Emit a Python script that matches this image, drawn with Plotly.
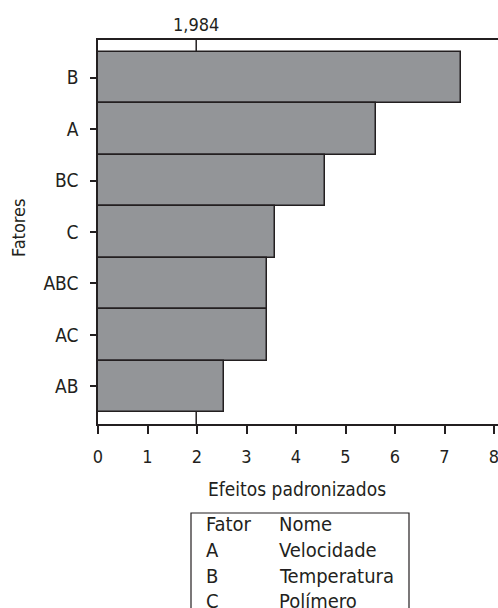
import plotly.graph_objects as go

# Data (top to bottom as shown)
factors = ["B", "A", "BC", "C", "ABC", "AC", "AB"]
effects = [7.33, 5.61, 4.59, 3.57, 3.41, 3.41, 2.55]
critical_value = 1.984
critical_label = "1,984"
x_ticks = [0, 1, 2, 3, 4, 5, 6, 7, 8]

table_header = ["Fator", "Nome"]
table_factors = ["A", "B", "C"]
table_names = ["Velocidade", "Temperatura", "Polímero"]

FONT = "DejaVu Sans Condensed, DejaVu Sans"
INK = "#231f20"
BAR = "#939598"

W, H = 498, 608
L, R, T, B = 98, 0, 40, 184
pw, ph = W - L - R, H - T - B

def px_x(x):
    return (x - L) / pw

def px_y(y):
    return (H - B - y) / ph

fig = go.Figure()
fig.add_trace(go.Bar(
    x=effects, y=factors, orientation="h",
    marker=dict(color=BAR, line=dict(color=INK, width=1.5)),
    width=1.0, showlegend=False, hoverinfo="skip",
))
# invisible trace to carry the top axis
fig.add_trace(go.Scatter(x=[critical_value], y=[factors[0]], xaxis="x2",
                         mode="markers", marker=dict(opacity=0),
                         showlegend=False, hoverinfo="skip"))

fig.add_shape(type="line", xref="x", yref="paper",
              x0=critical_value, x1=critical_value, y0=0, y1=1,
              line=dict(color=INK, width=1.5), layer="below")

# legend table box
fig.add_shape(type="rect", xref="paper", yref="paper",
              x0=px_x(191), x1=px_x(409), y0=px_y(513), y1=px_y(640),
              line=dict(color=INK, width=1.2), fillcolor="rgba(0,0,0,0)")

rows = [table_header] + [[f, n] for f, n in zip(table_factors, table_names)]
row_y = [524, 550, 575.5, 601]
for (c1, c2), yy in zip(rows, row_y):
    fig.add_annotation(text=c1, xref="paper", yref="paper", x=px_x(204), y=px_y(yy),
                       xanchor="left", yanchor="middle", showarrow=False,
                       font=dict(family=FONT, size=20, color=INK))
    fig.add_annotation(text=c2, xref="paper", yref="paper", x=px_x(277), y=px_y(yy),
                       xanchor="left", yanchor="middle", showarrow=False,
                       font=dict(family=FONT, size=20, color=INK))

# axis titles
fig.add_annotation(text="Efeitos padronizados", xref="paper", yref="paper",
                   x=px_x(297), y=px_y(489), xanchor="center", yanchor="middle",
                   showarrow=False, font=dict(family=FONT, size=19, color=INK))
fig.add_annotation(text="Fatores", xref="paper", yref="paper",
                   x=px_x(18), y=px_y(228), xanchor="center", yanchor="middle",
                   textangle=-90, showarrow=False,
                   font=dict(family=FONT, size=18, color=INK))

xr = [0, pw / 49.5]
fig.update_layout(
    width=W, height=H,
    margin=dict(l=L, r=R, t=T, b=B, autoexpand=False),
    paper_bgcolor="white", plot_bgcolor="white",
    bargap=0,
    font=dict(family=FONT, size=18, color=INK),
    xaxis=dict(range=xr, tickvals=x_ticks, ticks="outside", ticklen=8,
               tickwidth=1.5, tickcolor=INK, showline=True, linecolor=INK,
               linewidth=1.5, showgrid=False, zeroline=False,
               ticklabelstandoff=8, ticklabeloverflow="allow",
               tickfont=dict(family=FONT, size=18, color=INK)),
    xaxis2=dict(range=xr, overlaying="x", side="top", tickvals=[critical_value],
                ticktext=[critical_label], ticks="", showline=True, linecolor=INK,
                linewidth=1.5, showgrid=False, zeroline=False,
                ticklabelstandoff=0, tickfont=dict(family=FONT, size=18, color=INK)),
    yaxis=dict(type="category", categoryarray=factors,
               range=[6.733, -0.733], ticks="outside", ticklen=6, tickwidth=1.5,
               tickcolor=INK, showline=True, linecolor=INK, linewidth=1.5,
               showgrid=False, zeroline=False, ticklabelstandoff=8,
               tickfont=dict(family=FONT, size=19, color=INK)),
)

fig.write_html("out.html", config={"displayModeBar": False},
               post_script="document.body.style.margin='0';document.body.style.overflow='hidden';")
